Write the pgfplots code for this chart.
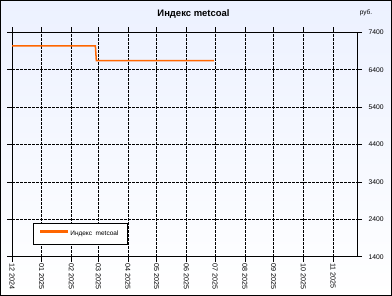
\documentclass[border=0pt]{standalone}
\usepackage{pgfplots}
\pgfplotsset{compat=1.18}
\usepackage{fontspec}
\setmainfont{Liberation Sans}
\definecolor{bgtop}{RGB}{236,241,255}
\definecolor{lineor}{RGB}{255,102,0}
\begin{document}
\begin{tikzpicture}[x=1bp,y=1bp]
\useasboundingbox (0,0) rectangle (392,296);
\shade[top color=bgtop,bottom color=white] (0,0) rectangle (392,296);
\draw[line width=1bp] (0.5,0.5) rectangle (391.5,295.5);
\node[font=\bfseries\fontsize{9.5}{11}\selectfont] at (193.5,282) {Индекс metcoal};
\node[font=\fontsize{6.5}{7}\selectfont] at (366,283) {руб.};
\begin{axis}[
  at={(12bp,39.3bp)}, anchor=south west,
  scale only axis, width=345bp, height=224.4bp,
  xmin=0, xmax=360, ymin=1400, ymax=7400,
  xtick={0,31,62,90,121,151,182,212,243,273,304,335},
  xticklabels={12 2024,01 2025,02 2025,03 2025,04 2025,05 2025,06 2025,07 2025,08 2025,09 2025,10 2025,11 2025},
  ytick={1400,2400,3400,4400,5400,6400,7400},
  yticklabel pos=right,
  tick align=outside,
  major tick length=5bp,
  tick style={black, line width=0.6bp},
  xticklabel style={rotate=-90, anchor=west, font=\fontsize{7.2}{8}\selectfont, inner sep=1.5bp},
  yticklabel style={font=\fontsize{6.8}{8}\selectfont, anchor=west, xshift=3bp},
  /pgf/number format/assume math mode=true,
  /pgf/number format/set thousands separator={},
  grid=major,
  major grid style={black, line width=0.6bp, dash pattern=on 2.5bp off 1.5bp},
  axis line style={black, line width=0.8bp},
  legend style={draw=black, fill=white, at={(0.06,0.057)}, anchor=south west, font=\fontsize{6.5}{7}\selectfont, inner xsep=7bp, inner ysep=5bp},
  legend image code/.code={\fill[lineor] (0bp,1.2bp) rectangle (27bp,2.9bp);},
  legend cell align=left,
]
\addplot[lineor, line width=1.5bp] coordinates {(0,7040) (87,7040) (88,6640) (211,6640)};
\addlegendentry{Индекс\ \ metcoal}
\end{axis}
\end{tikzpicture}
\end{document}
